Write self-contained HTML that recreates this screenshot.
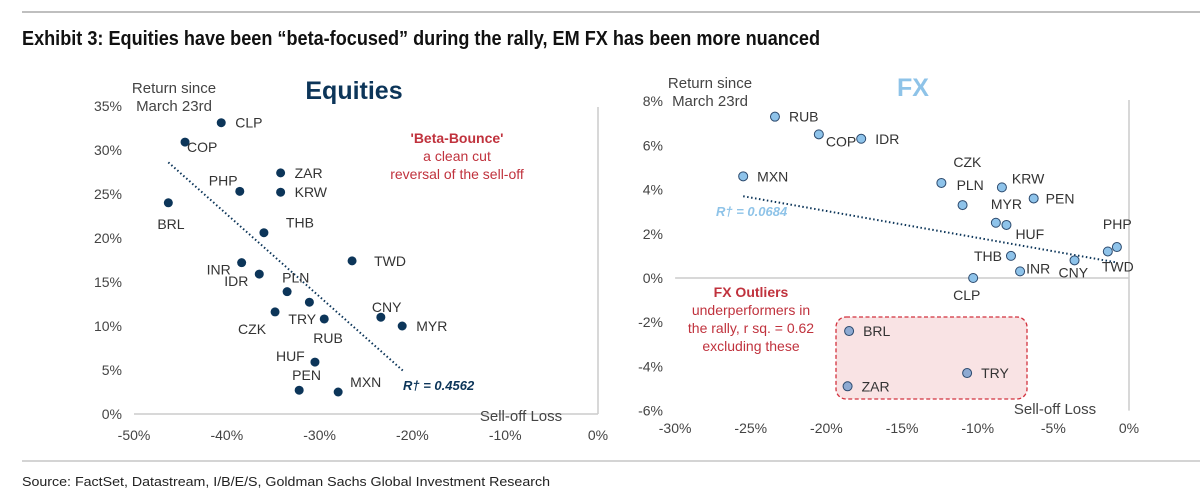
<!DOCTYPE html>
<html><head><meta charset="utf-8"><style>
html,body{margin:0;padding:0;background:#fff;}
svg{display:block;font-family:"Liberation Sans",Arial,sans-serif;}
</style></head><body>
<svg id="root" width="1200" height="496" viewBox="0 0 1200 496">
<line x1="22" y1="12" x2="1200" y2="12" stroke="#aaa" stroke-width="1.5"/>
<text x="22" y="45" font-size="20" font-weight="bold" fill="#111" textLength="798" lengthAdjust="spacingAndGlyphs">Exhibit 3: Equities have been “beta-focused” during the rally, EM FX has been more nuanced</text>
<line x1="22" y1="461" x2="1200" y2="461" stroke="#aaa" stroke-width="1"/>
<text x="22" y="486" font-size="13" fill="#222" textLength="528" lengthAdjust="spacingAndGlyphs">Source: FactSet, Datastream, I/B/E/S, Goldman Sachs Global Investment Research</text>

<g id="eq"></g>
<g id="fx"></g>
</svg>
<script>
// ---- Equities data ----
const eqLabels = ["CLP","COP","ZAR","KRW","PHP","BRL","THB","TWD","INR","IDR","PLN","TRY","CZK","RUB","CNY","MYR","HUF","PEN","MXN"];
const eqX = [-40.6,-44.5,-34.2,-34.2,-38.6,-46.3,-36.0,-26.5,-38.4,-36.5,-33.5,-31.1,-34.8,-29.5,-23.4,-21.1,-30.5,-32.2,-28.0];
const eqY = [33.1,30.9,27.4,25.2,25.3,24.0,20.6,17.4,17.2,15.9,13.9,12.7,11.6,10.8,11.0,10.0,5.9,2.7,2.5];
const eqLabelDx = [14,2,14,14,-31,-11,22,22,-35,-35,-5,-21,-37,-11,-9,14,-39,-7,12];
const eqLabelDy = [5,10,5,5,-6,26,-5,5,12,12,-9,22,22,24,-5,5,-1,-10,-5];
const eqXTicks = [-50,-40,-30,-20,-10,0];
const eqYTicks = [0,5,10,15,20,25,30,35];
const eqTrendX = [-46.3,-21.0];
const eqTrendY = [28.6,4.9];

// ---- FX data ----
const fxLabels = ["RUB","COP","IDR","MXN","CZK","KRW","PEN","PLN","MYR","HUF","PHP","TWD","THB","CNY","INR","CLP","BRL","TRY","ZAR"];
const fxX = [-23.4,-20.5,-17.7,-25.5,-12.4,-8.4,-6.3,-11.0,-8.8,-8.1,-0.8,-1.4,-7.8,-3.6,-7.2,-10.3,-18.5,-10.7,-18.6];
const fxY = [7.3,6.5,6.3,4.6,4.3,4.1,3.6,3.3,2.5,2.4,1.4,1.2,1.0,0.8,0.3,0.0,-2.4,-4.3,-4.9];
const fxOutlier = [0,0,0,0,0,0,0,0,0,0,0,0,0,0,0,0,1,1,1];
const fxLabelDx = [14,7,14,14,12,10,12,-6,-5,9,-14,-6,-37,-16,6,-20,14,14,14];
const fxLabelDy = [5,12,5,5,-16,-4,5,-15,-14,14,-18,20,5,17,2,22,5,5,5];
const fxXTicks = [-30,-25,-20,-15,-10,-5,0];
const fxYTicks = [-6,-4,-2,0,2,4,6,8];
const fxTrendX = [-25.5,-0.8];
const fxTrendY = [3.7,0.7];

const NS="http://www.w3.org/2000/svg";
function mk(parent,tag,attrs,text){const e=document.createElementNS(NS,tag);for(const k in attrs)e.setAttribute(k,attrs[k]);if(text!==undefined)e.textContent=text;parent.appendChild(e);return e;}

// Equities axes
const eqXs=v=>598+(v)*9.28;
const eqYs=v=>414-v*8.8;
const eq=document.getElementById('eq');
{
 let a=mk(eq,'line',{x1:eqXs(-50),y1:eqYs(0),x2:eqXs(0),y2:eqYs(0),stroke:'#ccc','stroke-width':1.5});
 
 
 let b=mk(eq,'line',{x1:eqXs(0),y1:107,x2:eqXs(0),y2:eqYs(0),stroke:'#ccc','stroke-width':1.5});
 
 
 eqXTicks.forEach(t=>{const e=mk(eq,'text',{x:eqXs(t),y:440,'font-size':14,fill:'#444','text-anchor':'middle'},t+'%');
  
  });
 eqYTicks.forEach(t=>{const e=mk(eq,'text',{x:122,y:eqYs(t)+5,'font-size':14,fill:'#444','text-anchor':'end'},t+'%');
  
  });
 let t1=mk(eq,'text',{x:174,y:93,'font-size':15,fill:'#444','text-anchor':'middle'},'Return since');
 
 
 let t2=mk(eq,'text',{x:174,y:111,'font-size':15,fill:'#444','text-anchor':'middle'},'March 23rd');
 
 
 let xt=mk(eq,'text',{x:521,y:421,'font-size':15,fill:'#444','text-anchor':'middle'},'Sell-off Loss');
 
 
 let ti=mk(eq,'text',{x:354,y:99,'font-size':25,'font-weight':'bold',fill:'#0c3559','text-anchor':'middle'},'Equities');
 
 
 let tr=mk(eq,'line',{x1:eqXs(eqTrendX[0]),y1:eqYs(eqTrendY[0]),x2:eqXs(eqTrendX[1]),y2:eqYs(eqTrendY[1]),stroke:'#0c3559','stroke-width':2,'stroke-dasharray':'1.5 2.5'});
 
 
 let r2=mk(eq,'text',{x:403,y:390,'font-size':13,'font-weight':'bold','font-style':'italic',fill:'#0c3559'},'R† = 0.4562');
 
 
 const ann=[["'Beta-Bounce'",true,143],["a clean cut",false,161],["reversal of the sell-off",false,179]];
 ann.forEach(a=>{const e=mk(eq,'text',{x:457,y:a[2],'font-size':14,'font-weight':a[1]?'bold':'normal',fill:'#c0323d','text-anchor':'middle'},a[0]);
  
  });
 eqLabels.forEach((l,i)=>{
  const c=mk(eq,'circle',{cx:eqXs(eqX[i]),cy:eqYs(eqY[i]),r:4.5,fill:'#0c3559'});
  
  
  const t=mk(eq,'text',{x:eqXs(eqX[i])+eqLabelDx[i],y:eqYs(eqY[i])+eqLabelDy[i],'font-size':14,fill:'#333'},l);
  
  
 });
}

// FX
const fxXs=v=>1129+v*15.13;
const fxYs=v=>278-v*22.1;
const fx=document.getElementById('fx');
{
 let box=mk(fx,'rect',{x:836,y:317,width:191,height:82,rx:10,fill:'#f9e3e4',stroke:'#d2323e','stroke-width':1.3,'stroke-dasharray':'4 2.5'});
 
 
 let a=mk(fx,'line',{x1:fxXs(-30),y1:fxYs(0),x2:fxXs(0),y2:fxYs(0),stroke:'#ccc','stroke-width':1.5});
 
 
 let b=mk(fx,'line',{x1:fxXs(0),y1:100,x2:fxXs(0),y2:fxYs(-6),stroke:'#ccc','stroke-width':1.5});
 
 
 fxXTicks.forEach(t=>{const e=mk(fx,'text',{x:fxXs(t),y:433,'font-size':14,fill:'#444','text-anchor':'middle'},t+'%');
  
  });
 fxYTicks.forEach(t=>{const e=mk(fx,'text',{x:663,y:fxYs(t)+5,'font-size':14,fill:'#444','text-anchor':'end'},t+'%');
  
  });
 let t1=mk(fx,'text',{x:710,y:88,'font-size':15,fill:'#444','text-anchor':'middle'},'Return since');
 
 
 let t2=mk(fx,'text',{x:710,y:106,'font-size':15,fill:'#444','text-anchor':'middle'},'March 23rd');
 
 
 let xt=mk(fx,'text',{x:1055,y:414,'font-size':15,fill:'#444','text-anchor':'middle'},'Sell-off Loss');
 
 
 let ti=mk(fx,'text',{x:913,y:96,'font-size':25,'font-weight':'bold',fill:'#8ec3e8','text-anchor':'middle'},'FX');
 
 
 let tr=mk(fx,'line',{x1:fxXs(fxTrendX[0]),y1:fxYs(fxTrendY[0]),x2:fxXs(fxTrendX[1]),y2:fxYs(fxTrendY[1]),stroke:'#0c3559','stroke-width':2,'stroke-dasharray':'1.5 2.5'});
 
 
 let r2=mk(fx,'text',{x:716,y:216,'font-size':13,'font-weight':'bold','font-style':'italic',fill:'#8ec3e8'},'R† = 0.0684');
 
 
 const ann=[["FX Outliers",true,297],["underperformers in",false,315],["the rally, r sq. = 0.62",false,333],["excluding these",false,351]];
 ann.forEach(a=>{const e=mk(fx,'text',{x:751,y:a[2],'font-size':14,'font-weight':a[1]?'bold':'normal',fill:'#c0323d','text-anchor':'middle'},a[0]);
  
  });
 fxLabels.forEach((l,i)=>{
  const c=mk(fx,'circle',{cx:fxXs(fxX[i]),cy:fxYs(fxY[i]),r:4.5,fill:fxOutlier[i]?'#8eaad2':'#8ec3ea',stroke:'#2c4a6e','stroke-width':1});
  
  
  const t=mk(fx,'text',{x:fxXs(fxX[i])+fxLabelDx[i],y:fxYs(fxY[i])+fxLabelDy[i],'font-size':14,fill:'#333'},l);
  
  
 });
}
</script>
</body></html>
